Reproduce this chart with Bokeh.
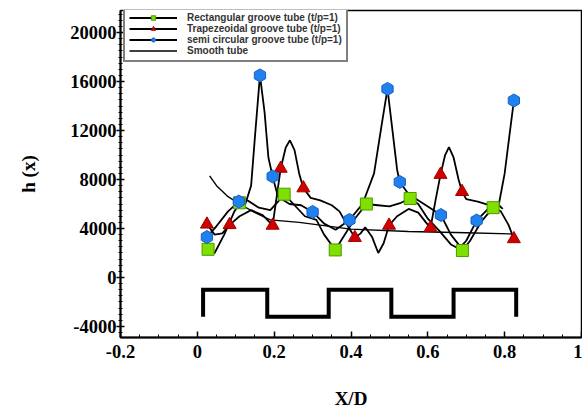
from bokeh.plotting import figure
from bokeh.models import Range1d, FixedTicker, NumeralTickFormatter, Legend, LegendItem
from bokeh.embed import file_html
from bokeh.resources import INLINE

# ---- data ----
rect_x = [0.028, 0.11, 0.226, 0.359, 0.44, 0.554, 0.69, 0.77]
rect_y = [2300, 6100, 6800, 2250, 6000, 6450, 2200, 5700]

trap_x = [0.025, 0.084, 0.196, 0.217, 0.276, 0.41, 0.499, 0.607, 0.633, 0.689, 0.824]
trap_y = [4340, 4300, 4250, 8900, 7300, 3250, 4250, 4050, 8400, 7000, 3150]

semi_x = [0.025, 0.108, 0.163, 0.196, 0.30, 0.396, 0.495, 0.527, 0.634, 0.727, 0.824]
semi_y = [3300, 6200, 16500, 8250, 5350, 4700, 15400, 7800, 5100, 4650, 14450]

# curves traced through the markers
rect_curve_x = [0.028, 0.045, 0.07, 0.095, 0.11, 0.13, 0.16, 0.19, 0.21, 0.226, 0.25, 0.28, 0.31,
                0.33, 0.359, 0.38, 0.41, 0.44, 0.47, 0.50, 0.53, 0.554, 0.575, 0.60, 0.63, 0.66,
                0.69, 0.71, 0.74, 0.77, 0.785, 0.795]
rect_curve_y = [2300, 2000, 3500, 5300, 6100, 6300, 5700, 5500, 6200, 6800, 6000, 5000, 4700,
                3500, 2250, 3300, 4800, 6000, 5900, 5800, 6100, 6450, 6000, 4800, 3800, 2700,
                2200, 3000, 4600, 5700, 5900, 5600]

trap_curve_x = [0.025, 0.045, 0.065, 0.084, 0.11, 0.14, 0.17, 0.196, 0.217, 0.23, 0.241, 0.253,
                0.265, 0.276, 0.295, 0.32, 0.35, 0.37, 0.39, 0.41, 0.425, 0.437, 0.455, 0.471,
                0.485, 0.499, 0.52, 0.55, 0.575, 0.595, 0.607, 0.62, 0.633, 0.645, 0.655, 0.667,
                0.68, 0.689, 0.70, 0.73, 0.76, 0.79, 0.81, 0.824]
trap_curve_y = [4340, 3500, 3600, 4300, 5000, 5500, 5100, 4250, 8900, 10600, 11200, 10400,
                8500, 7300, 6500, 6300, 5900, 5400, 4300, 3250, 3600, 4100, 3300, 2000,
                2800, 4250, 5000, 5600, 5300, 4500, 4050, 6300, 8400, 10000, 10650, 9800,
                8000, 7000, 6400, 6200, 5900, 5400, 4300, 3150]

semi_curve_x = [0.025, 0.05, 0.08, 0.108, 0.125, 0.14, 0.15, 0.163, 0.175, 0.185, 0.196, 0.21,
                0.24, 0.27, 0.30, 0.33, 0.36, 0.396, 0.43, 0.46, 0.48, 0.495, 0.508, 0.52,
                0.527, 0.55, 0.59, 0.634, 0.66, 0.685, 0.70, 0.727, 0.76, 0.785, 0.80, 0.812, 0.824]
semi_curve_y = [3300, 4200, 5400, 6200, 6000, 7500, 11500, 16500, 13500, 9800, 8250, 6600,
                6000, 5900, 5350, 4400, 3900, 4700, 6000, 8500, 12500, 15400, 12000, 8800,
                7800, 6800, 6000, 5100, 3500, 2500, 3000, 4650, 5700, 6000, 8500, 11500, 14450]

smooth_x = [0.032, 0.05, 0.08, 0.11, 0.15, 0.19, 0.265, 0.4, 0.55, 0.7, 0.824]
smooth_y = [8300, 7500, 6600, 6000, 5300, 4700, 4500, 3950, 3750, 3650, 3550]

profile_x = [0.015, 0.015, 0.182, 0.182, 0.342, 0.342, 0.505, 0.505, 0.667, 0.667, 0.83, 0.83]
profile_y = [-3200, -1000, -1000, -3200, -3200, -1000, -1000, -3200, -3200, -1000, -1000, -3200]

x_ticks = [-0.2, 0, 0.2, 0.4, 0.6, 0.8, 1.0]
y_ticks = [-4000, 0, 4000, 8000, 12000, 16000, 20000]

labels = ["Rectangular groove tube (t/p=1)", "Trapezeoidal groove tube (t/p=1)",
          "semi circular groove tube (t/p=1)", "Smooth tube"]

# ---- figure ----
p = figure(width=582, height=412, x_range=Range1d(-0.2, 1.0), y_range=Range1d(-4900, 21800),
           output_backend="svg", toolbar_location=None,
           min_border_left=120, min_border_right=1, min_border_top=10, min_border_bottom=75)
p.background_fill_color = "white"
p.border_fill_color = "white"
p.outline_line_color = "black"
p.outline_line_width = 1.5
p.xgrid.visible = False
p.ygrid.visible = False

serif = "Liberation Serif"

p.xaxis.ticker = FixedTicker(ticks=x_ticks, minor_ticks=[round(-0.2 + 0.05 * i, 2) for i in range(25)])
p.yaxis.ticker = FixedTicker(ticks=y_ticks, minor_ticks=[-4500 + 500 * i for i in range(53)])
p.xaxis.formatter = NumeralTickFormatter(format="0.[0]")
p.yaxis.formatter = NumeralTickFormatter(format="0")

for ax in (p.xaxis[0], p.yaxis[0]):
    ax.axis_line_color = "black"
    ax.axis_line_width = 2
    ax.major_tick_line_color = "black"
    ax.major_tick_line_width = 1.5
    ax.minor_tick_line_color = "black"
    ax.major_label_text_font = serif
    ax.major_label_text_font_style = "bold"
    ax.major_label_text_font_size = "18.5px"
    ax.major_label_text_color = "black"
    ax.axis_label_text_font = serif
    ax.axis_label_text_font_style = "bold"
    ax.axis_label_text_color = "black"

p.xaxis.major_tick_in = 6
p.xaxis.major_tick_out = 0
p.xaxis.minor_tick_in = 3
p.xaxis.minor_tick_out = 0
p.xaxis.major_label_standoff = 7
p.xaxis.axis_label = "X/D"
p.xaxis.axis_label_text_font_size = "19px"
p.xaxis.axis_label_standoff = 27

p.yaxis.major_tick_in = 4
p.yaxis.major_tick_out = 4
p.yaxis.minor_tick_in = 2
p.yaxis.minor_tick_out = 2
p.yaxis.major_label_standoff = 0
p.yaxis.axis_label = "h (x)"
p.yaxis.axis_label_text_font_size = "19px"
p.yaxis.axis_label_standoff = 28

# ---- curves ----
r_smooth = p.line(smooth_x, smooth_y, line_color="black", line_width=1.4)
r_rect_l = p.line(rect_curve_x, rect_curve_y, line_color="black", line_width=1.8)
r_trap_l = p.line(trap_curve_x, trap_curve_y, line_color="black", line_width=1.8)
r_semi_l = p.line(semi_curve_x, semi_curve_y, line_color="black", line_width=1.8)

p.line(profile_x, profile_y, line_color="black", line_width=4, line_join="miter")

r_rect_m = p.scatter(rect_x, rect_y, marker="square", size=12, fill_color="#7fe000",
                     line_color="#4c9a00", line_width=1)
r_trap_m = p.scatter(trap_x, trap_y, marker="triangle", size=13, fill_color="#d00000",
                     line_color="#a00000", line_width=1)
r_semi_m = p.scatter(semi_x, semi_y, marker="hex", size=13, fill_color="#1f80f0",
                     line_color="#1a60c0", line_width=1, angle=0.5236)

legend = Legend(items=[
    LegendItem(label=labels[0], renderers=[r_rect_l, r_rect_m]),
    LegendItem(label=labels[1], renderers=[r_trap_l, r_trap_m]),
    LegendItem(label=labels[2], renderers=[r_semi_l, r_semi_m]),
    LegendItem(label=labels[3], renderers=[r_smooth]),
], location=(3, 275))
legend.glyph_width = 48
legend.glyph_height = 11
legend.label_height = 11
legend.spacing = 0
legend.padding = 4
legend.margin = 0
legend.label_standoff = 10
legend.label_text_font = "Liberation Sans"
legend.label_text_font_style = "bold"
legend.label_text_font_size = "10px"
legend.label_text_color = "#333333"
legend.border_line_color = "black"
legend.border_line_width = 2
legend.background_fill_alpha = 1
p.add_layout(legend)

open("out.html", "w").write(file_html(p, INLINE))
